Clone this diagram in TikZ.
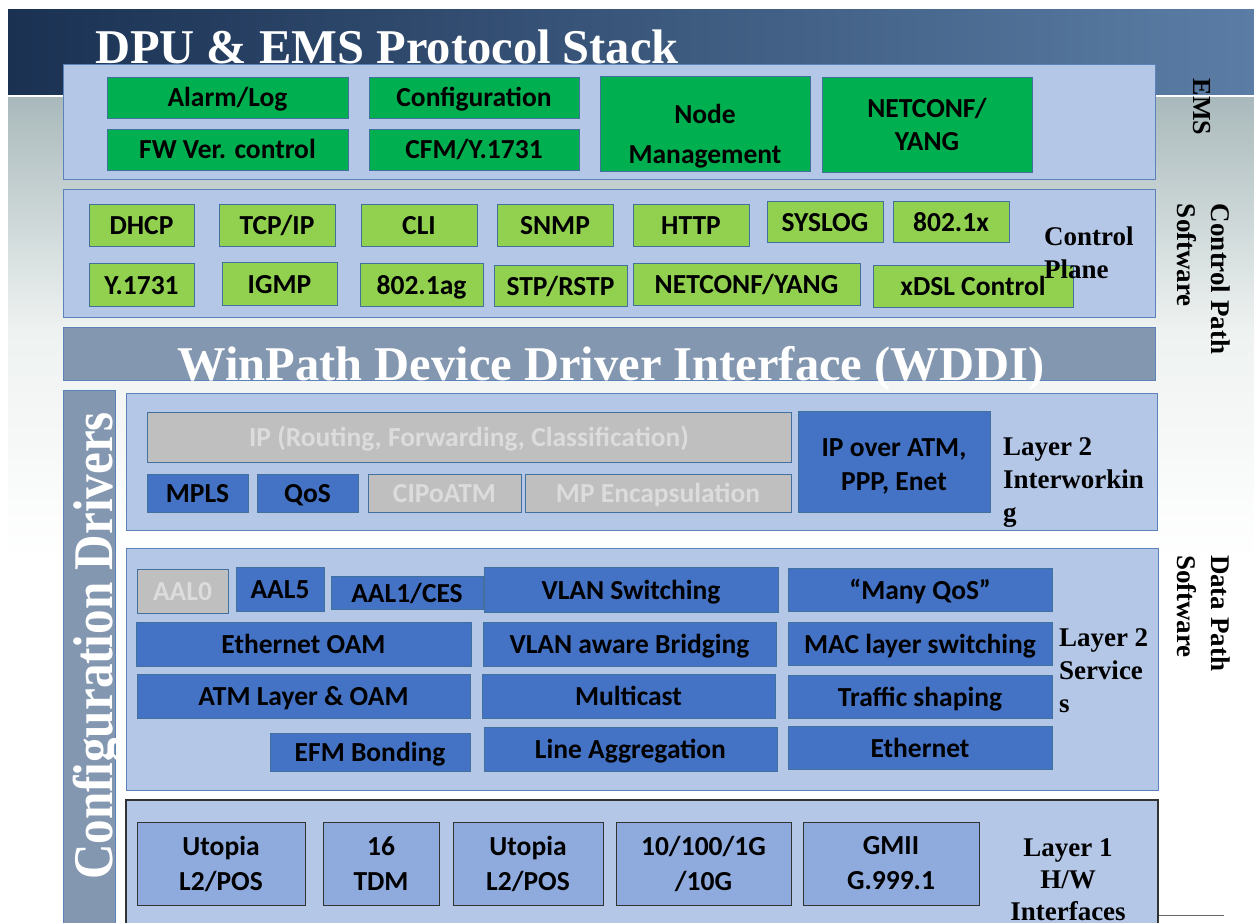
\documentclass[tikz,border=0pt]{standalone}
\usepackage{fontspec}
\setmainfont{Liberation Serif}
\newfontfamily\calfam{Carlito}
\usetikzlibrary{calc}
\definecolor{hdrL}{HTML}{1A3152}
\definecolor{hdrM}{HTML}{3A6796}
\definecolor{hdrR}{HTML}{5B7DA5}
\definecolor{bgA}{HTML}{A9B9BB}
\definecolor{bgB}{HTML}{EEF2F1}
\definecolor{panelfill}{HTML}{B4C7E7}
\definecolor{panelline}{HTML}{5B82B9}
\definecolor{barfill}{HTML}{8497B0}
\definecolor{dkgreen}{HTML}{00B050}
\definecolor{ltgreen}{HTML}{92D050}
\definecolor{boxline}{HTML}{41719C}
\definecolor{bluebox}{HTML}{4472C4}
\definecolor{graybox}{HTML}{BFBFBF}
\definecolor{graytext}{HTML}{DCDCDC}
\definecolor{hwbox}{HTML}{8FAADC}
\definecolor{hwline}{HTML}{333333}
\newcommand\boxfont{\calfam\bfseries\fontsize{27.5}{31}\selectfont}
\newcommand\lblfont{\bfseries\fontsize{27}{33}\selectfont}
\newcommand\rotfont{\bfseries\fontsize{27}{34}\selectfont}
\newcommand\mkbox[7]{\node[#2, minimum width={#5-#3}, minimum height={#6-#4}] (#1) at ({(#3+#5)/2},{(#4+#6)/2}) {#7};}
\tikzset{
  every node/.style={inner sep=0pt, outer sep=0pt},
  panel/.style={draw=panelline, fill=panelfill, line width=1pt},
  hwpanel/.style={draw=hwline, fill=panelfill, line width=1.2pt},
  bar/.style={draw=panelline, fill=barfill, line width=1pt},
  onel/.style={text height=19pt, text depth=0pt},
  gbox/.style={draw=boxline, fill=dkgreen, line width=0.8pt, font=\boxfont, align=center, text=black},
  lgbox/.style={draw=boxline, fill=ltgreen, line width=0.8pt, font=\boxfont, text=black, onel},
  bbox/.style={draw=boxline, fill=bluebox, line width=0.8pt, font=\boxfont, text=black, onel},
  grbox/.style={draw=boxline, fill=graybox, line width=0.8pt, font=\boxfont, text=graytext, onel},
  hbox/.style={draw=hwline, fill=hwbox, line width=1pt, font=\calfam\bfseries\fontsize{27.5}{35}\selectfont, align=center, text=black},
  lbl/.style={font=\lblfont, text=black},
  rotlbl/.style={font=\rotfont, text=black, rotate=-90, align=left},
  bigwhite/.style={text=white, font=\bfseries\fontsize{48.5}{52}\selectfont}
}
\begin{document}
\begin{tikzpicture}[x=1pt, y=-1pt]
\useasboundingbox (0,0) rectangle (1254,923);
\clip (0,0) rectangle (1254,923);
% background
\fill[white] (0,0) rectangle (1254,923);
\shade[left color=hdrL, middle color=hdrM, right color=hdrR] (8,10) rectangle (1254,96);
\shade[top color=bgA, bottom color=bgB] (8,96) rectangle (1254,330);
\shade[top color=bgB, bottom color=white] (8,330) rectangle (1254,560);
\draw[white, line width=1.5pt] (8,96) -- (1254,96);
\draw[gray!80!black, line width=0.8pt] (1158,915) -- (1224,915);
% title
\node[bigwhite, anchor=base west] (title) at (95,64) {DPU \& EMS Protocol Stack};
% EMS
\mkbox{ems}{panel}{63}{65}{1155}{180}{}
\mkbox{alarm}{gbox, onel}{107}{77}{348}{118}{Alarm/Log}
\mkbox{fwver}{gbox, onel}{107}{129}{348}{170}{FW Ver. control}
\mkbox{config}{gbox, onel}{369}{77}{579}{118}{Configuration}
\mkbox{cfm}{gbox, onel}{369}{129}{579}{170}{CFM/Y.1731}
\mkbox{nodemgmt}{gbox, font=\calfam\bfseries\fontsize{27.5}{40}\selectfont}{600}{76}{810}{171}{\rule{0pt}{44pt}Node\\Management}
\mkbox{netconf}{gbox, font=\calfam\bfseries\fontsize{27.5}{33}\selectfont}{822}{77}{1032}{172}{NETCONF/\\YANG}
% Control plane
\mkbox{cp}{panel}{63}{190}{1155}{317}{}
\mkbox{dhcp}{lgbox}{89}{204}{194}{246}{DHCP}
\mkbox{tcpip}{lgbox}{219}{204}{335}{246}{TCP/IP}
\mkbox{cli}{lgbox}{361}{204}{477}{246}{CLI}
\mkbox{snmp}{lgbox}{497}{204}{613}{246}{SNMP}
\mkbox{http}{lgbox}{633}{204}{749}{246}{HTTP}
\mkbox{syslog}{lgbox}{767}{201}{883}{242}{SYSLOG}
\mkbox{dotx}{lgbox}{893}{201}{1009}{242}{802.1x}
\mkbox{yone}{lgbox}{89}{263}{194}{306}{Y.1731}
\mkbox{igmp}{lgbox}{222}{262}{337}{305}{IGMP}
\mkbox{dotag}{lgbox}{360}{263}{483}{306}{802.1ag}
\mkbox{stp}{lgbox}{494}{265}{627}{306}{STP/RSTP}
\mkbox{netconfb}{lgbox}{633}{263}{860}{305}{NETCONF/YANG}
\mkbox{xdsl}{lgbox}{873}{265}{1073}{307}{xDSL Control}
\node[lbl, anchor=north west, align=left] (cplbl) at (1044,227) {Control\\Plane};
% WDDI
\mkbox{wddi}{bar}{63}{327}{1155}{380}{}
\node[bigwhite, anchor=base] (wdditxt) at (611,380) {WinPath Device Driver Interface (WDDI)};
% Configuration drivers
\mkbox{cfgbar}{bar}{63}{390}{115}{940}{}
\node[text=white, font=\bfseries\fontsize{56}{60}\selectfont, rotate=90, anchor=base] (cfgtxt) at (112,646) {\scalebox{0.877}[1]{Configuration Drivers}};
% Layer 2 interworking
\mkbox{ltwoi}{panel}{126}{393}{1157}{530}{}
\mkbox{ip}{grbox}{147}{412}{791}{462}{IP (Routing, Forwarding, Classification)}
\mkbox{mpls}{bbox}{147}{474}{248}{512}{MPLS}
\mkbox{qos}{bbox}{257}{474}{358}{512}{QoS}
\mkbox{cipoatm}{grbox}{368}{474}{521}{512}{CIPoATM}
\mkbox{mpenc}{grbox}{525}{474}{791}{512}{MP Encapsulation}
\mkbox{ipatm}{bbox, text height=, text depth=, align=center, font=\calfam\bfseries\fontsize{27.5}{34}\selectfont}{798}{411}{990}{512}{\rule{0pt}{27pt}IP over ATM,\\PPP, Enet}
\node[lbl, anchor=north west, align=left] (ltwoilbl) at (1003,438) {Layer 2\\Interworkin\\g};
% Layer 2 services
\mkbox{ltwos}{panel}{126}{548}{1158}{790}{}
\mkbox{aalz}{grbox}{137}{569}{228}{613}{AAL0}
\mkbox{aalf}{bbox}{236}{567}{324}{611}{AAL5}
\mkbox{aalone}{bbox}{331}{576}{483}{609}{AAL1/CES}
\mkbox{vlansw}{bbox}{484}{567}{778}{612}{VLAN Switching}
\mkbox{manyqos}{bbox}{788}{568}{1052}{611}{“Many QoS”}
\mkbox{ethoam}{bbox}{136}{622}{471}{666}{Ethernet OAM}
\mkbox{vlanbr}{bbox}{483}{622}{776}{666}{VLAN aware Bridging}
\mkbox{macsw}{bbox}{788}{622}{1052}{665}{MAC layer switching}
\mkbox{atm}{bbox}{137}{674}{470}{718}{ATM Layer \& OAM}
\mkbox{mcast}{bbox}{482}{674}{775}{718}{Multicast}
\mkbox{shaping}{bbox}{788}{675}{1052}{718}{Traffic shaping}
\mkbox{efm}{bbox}{270}{733}{470}{771}{EFM Bonding}
\mkbox{lineagg}{bbox}{484}{727}{777}{771}{Line Aggregation}
\mkbox{ether}{bbox}{788}{726}{1052}{769}{Ethernet}
\node[lbl, anchor=north west, align=left] (ltwoslbl) at (1059,629) {Layer 2\\Service\\s};
% Layer 1
\mkbox{lone}{hwpanel}{126}{800}{1158}{940}{}
\mkbox{utopa}{hbox}{137}{822}{305}{905}{Utopia\\L2/POS}
\mkbox{tdm}{hbox}{323}{822}{439}{905}{16\\TDM}
\mkbox{utopb}{hbox}{453}{822}{603}{905}{Utopia\\L2/POS}
\mkbox{gig}{hbox}{616}{822}{791}{905}{10/100/1G\\/10G}
\mkbox{gmii}{hbox}{803}{822}{979}{905}{GMII\\G.999.1}
\node[lbl, anchor=north, align=center, font=\bfseries\fontsize{27}{32}\selectfont] (lonelbl) at (1068,839) {Layer 1\\H/W\\Interfaces};
% right side labels
\node[rotlbl, anchor=north, font=\bfseries\fontsize{26}{34}\selectfont] (emslbl) at (1211,107) {EMS};
\node[rotlbl, anchor=north west] (cplabel) at (1230,204) {Control Path\\Software};
\node[rotlbl, anchor=north west] (dplabel) at (1230,555) {Data Path\\Software};
\end{tikzpicture}
\end{document}
